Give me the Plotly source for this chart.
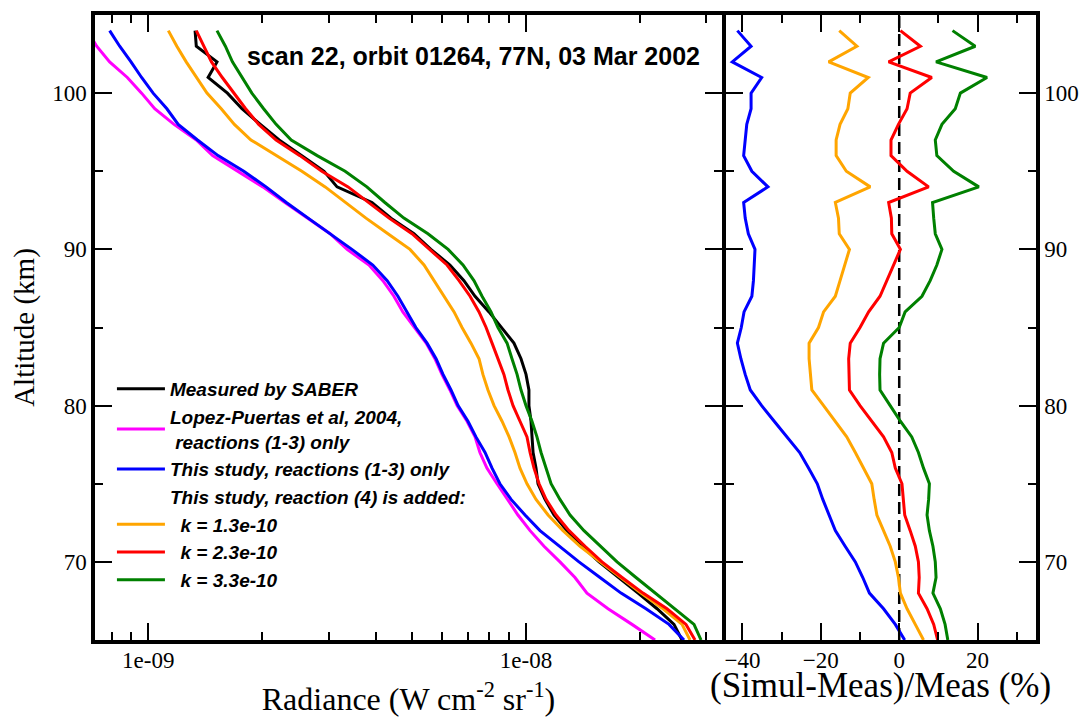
import plotly.graph_objects as go

# ---------------- data ----------------
altitude_km = [104, 103, 102, 101, 100, 99, 98, 97, 96, 95, 94, 93, 92, 91, 90,
               89, 88, 87, 86, 85, 84, 83, 82, 81, 80, 79, 78, 77, 76, 75,
               74, 73, 72, 71, 70, 69, 68, 67, 66, 65]

# radiance values in units of 1e-9 W cm^-2 sr^-1
RAD_UNIT = 1e-9
rad_measured = [1.33, 1.34, 1.52, 1.44, 1.62, 1.77, 1.98, 2.22, 2.55, 2.92, 3.16, 3.91, 4.39, 5.05, 5.60,
                6.29, 6.85, 7.33, 7.98, 8.59, 9.29, 9.70, 10.00, 10.18, 10.18, 10.31, 10.37, 10.44, 10.63, 10.76,
                11.23, 11.86, 12.84, 14.07, 15.61, 17.52, 19.80, 22.23, 24.65, 25.88]
rad_lopez = [0.69, 0.73, 0.79, 0.88, 0.96, 1.04, 1.17, 1.34, 1.48, 1.73, 2.01, 2.30, 2.63, 3.03, 3.36,
             3.84, 4.18, 4.47, 4.72, 5.08, 5.44, 5.74, 5.99, 6.29, 6.57, 6.98, 7.33, 7.55, 7.88, 8.38,
             8.91, 9.52, 10.25, 11.16, 12.30, 13.48, 14.50, 16.49, 19.08, 21.96]
rad_study13 = [0.79, 0.84, 0.90, 0.96, 1.03, 1.12, 1.20, 1.35, 1.53, 1.79, 2.05, 2.32, 2.65, 3.03, 3.46,
               3.93, 4.29, 4.58, 4.84, 5.11, 5.47, 5.78, 6.03, 6.33, 6.61, 7.02, 7.37, 7.79, 8.13, 8.53,
               9.13, 9.94, 10.89, 12.23, 13.81, 15.70, 17.85, 20.78, 23.91, 26.20]
rad_k13 = [1.13, 1.19, 1.26, 1.34, 1.43, 1.56, 1.69, 1.87, 2.18, 2.55, 2.94, 3.32, 3.77, 4.31, 4.93,
           5.37, 5.71, 6.07, 6.45, 6.77, 7.15, 7.51, 7.69, 7.93, 8.23, 8.64, 9.02, 9.35, 9.64, 10.06,
           10.63, 11.44, 12.53, 13.90, 15.70, 17.74, 20.16, 23.05, 25.89, 27.18]
rad_k23 = [1.34, 1.40, 1.47, 1.57, 1.69, 1.81, 1.96, 2.18, 2.52, 2.88, 3.38, 3.82, 4.34, 4.99, 5.57,
           6.18, 6.65, 7.11, 7.51, 7.84, 8.13, 8.43, 8.74, 8.96, 9.24, 9.64, 10.06, 10.25, 10.50, 10.83,
           11.30, 12.01, 13.00, 14.33, 15.89, 17.96, 20.41, 23.62, 26.52, 28.02]
rad_k33 = [1.52, 1.60, 1.67, 1.77, 1.88, 2.02, 2.18, 2.39, 2.80, 3.32, 3.79, 4.23, 4.75, 5.50, 6.22,
           6.81, 7.28, 7.65, 8.08, 8.43, 8.91, 9.18, 9.47, 9.70, 10.00, 10.37, 10.69, 10.96, 11.30, 11.65,
           12.30, 13.08, 14.24, 15.70, 17.42, 19.55, 21.96, 24.80, 27.85, 29.07]

# (Simul-Meas)/Meas in percent
pct_study13 = [-41.3, -37.8, -42.6, -35.1, -37.8, -37.8, -38.9, -39.3, -39.7, -37.6, -33.5, -39.7, -39.3, -38.5, -36.8,
               -37.0, -37.2, -37.6, -39.6, -40.3, -41.3, -40.4, -39.3, -38.0, -35.1, -31.9, -28.7, -25.4, -23.1, -20.9,
               -19.5, -17.8, -16.3, -13.8, -11.2, -9.3, -7.6, -4.0, -1.0, 1.4]
pct_k13 = [-15.3, -10.8, -18.0, -7.9, -12.5, -13.1, -15.1, -16.1, -16.1, -13.5, -7.4, -16.3, -15.5, -15.3, -12.7,
           -13.8, -15.1, -16.3, -19.3, -20.6, -23.0, -23.0, -22.7, -22.3, -19.3, -16.3, -13.4, -11.2, -9.1, -7.0,
           -6.4, -5.7, -4.0, -2.3, -1.0, -0.2, 0.3, 2.0, 4.1, 6.2]
pct_k23 = [0.3, 5.4, -2.7, 8.3, 2.8, 2.0, -0.2, -2.1, -2.1, 2.0, 7.5, -2.7, -2.0, -1.9, 0.3,
           -1.4, -3.1, -4.9, -7.8, -10.0, -12.5, -12.9, -12.8, -12.7, -10.0, -7.0, -4.0, -1.9, -1.0, 0.7,
           1.1, 1.4, 2.8, 4.1, 4.9, 5.1, 4.9, 7.1, 8.8, 9.8]
pct_k33 = [13.6, 19.4, 9.4, 22.4, 15.6, 14.3, 10.9, 9.2, 9.6, 13.9, 20.3, 8.5, 8.8, 9.2, 10.9,
           9.6, 7.9, 5.8, 1.5, 0.0, -4.0, -4.9, -5.0, -4.9, -2.3, 0.3, 3.2, 4.9, 6.2, 7.7,
           7.5, 7.1, 7.7, 8.6, 9.2, 9.4, 8.6, 10.5, 11.7, 12.4]

series_names = ["Measured by SABER",
                "Lopez-Puertas et al, 2004,<br>\u00a0reactions (1-3) only",
                "This study, reactions (1-3) only",
                "\u00a0\u00a0k = 1.3e-10",
                "\u00a0\u00a0k = 2.3e-10",
                "\u00a0\u00a0k = 3.3e-10"]
header_name = "This study, reaction (4) is added:"
series_colors = ["#000000", "#ff00ff", "#0000ff", "#ffa500", "#ff0000", "#008000"]

rad_tick_vals = [1e-9, 1e-8]
rad_tick_text = ["1e-09", "1e-08"]
rad_minor_ticks = [8e-10, 9e-10, 2e-9, 3e-9, 4e-9, 5e-9, 6e-9, 7e-9, 8e-9, 9e-9, 2e-8, 3e-8]

# ---------------- figure ----------------
LW = 3
SERIF = "Liberation Serif"
SANS = "Liberation Sans"
fig = go.Figure()

rad_series = [rad_measured, rad_lopez, rad_study13, rad_k13, rad_k23, rad_k33]
for i, vals in enumerate(rad_series):
    fig.add_trace(go.Scatter(
        x=[v * RAD_UNIT for v in vals], y=altitude_km, mode="lines",
        name=series_names[i], line=dict(color=series_colors[i], width=LW),
        xaxis="x", yaxis="y", legendrank=(i if i < 3 else i + 1) * 10))

# legend header line without a symbol
fig.add_trace(go.Scatter(x=[None], y=[None], mode="lines", name=header_name,
                         line=dict(color="rgba(0,0,0,0)", width=LW), legendrank=30,
                         xaxis="x", yaxis="y", hoverinfo="skip"))

pct_series = [pct_study13, pct_k13, pct_k23, pct_k33]
for vals, col in zip(pct_series, series_colors[2:]):
    fig.add_trace(go.Scatter(x=vals, y=altitude_km, mode="lines", showlegend=False,
                             line=dict(color=col, width=LW), xaxis="x2", yaxis="y2"))

# zero reference line in the difference panel
fig.add_shape(type="line", xref="x2", yref="paper", x0=0, x1=0, y0=0, y1=1,
              line=dict(color="black", width=2.5, dash="12px,6px"), layer="below")

FRAME = 3.5
tick_font = dict(family=SERIF, size=23, color="black")
common_axis = dict(showline=True, linewidth=FRAME, linecolor="black", mirror="allticks",
                   showgrid=False, zeroline=False, ticks="inside", ticklen=17, tickwidth=1.5,
                   tickcolor="black", tickfont=tick_font)
minor_common = dict(ticks="inside", ticklen=8, tickwidth=1.5, tickcolor="black", showgrid=False)

L_END = 627 / 941
R_START = 631 / 941

fig.update_layout(
    width=1084, height=717,
    margin=dict(l=95, r=48, t=15, b=77, autoexpand=False),
    paper_bgcolor="white", plot_bgcolor="white",
    font=dict(family=SERIF, size=23, color="black"),
    title=dict(text="scan 22, orbit 01264, 77N, 03 Mar 2002",
               font=dict(family=SANS, size=25, color="black", weight="bold"),
               xref="paper", yref="paper", x=0.4022, y=0.934, xanchor="center", yanchor="middle"),
    xaxis=dict(domain=[0, L_END], type="log", range=[-9.1411, -7.4811], anchor="y",
               tickmode="array", tickvals=rad_tick_vals, ticktext=rad_tick_text,
               minor=dict(tickmode="array", tickvals=rad_minor_ticks, **minor_common),
               ticklabelstandoff=-3,
               title=dict(text="Radiance (W cm<sup>-2</sup> sr<sup>-1</sup>)",
                          font=dict(family=SERIF, size=32), standoff=28),
               **common_axis),
    yaxis=dict(domain=[0, 1], range=[65, 105], anchor="x", dtick=10, tick0=0,
               minor=dict(dtick=5, tick0=0, **minor_common),
               title=dict(text="Altitude (km)", font=dict(family=SERIF, size=29), standoff=10),
               **common_axis),
    xaxis2=dict(domain=[R_START, 1], range=[-44.2, 34.9], anchor="y2",
                dtick=20, tick0=0, minor=dict(dtick=10, tick0=0, **minor_common),
                ticklabelstandoff=-3,
                **common_axis),
    yaxis2=dict(domain=[0, 1], range=[65, 105], anchor="x2", side="right", dtick=10, tick0=0,
                minor=dict(dtick=5, tick0=0, **minor_common), **common_axis),
    legend=dict(x=0.018, y=0.432, xanchor="left", yanchor="top", itemwidth=48,
                bgcolor="rgba(0,0,0,0)", borderwidth=0, tracegroupgap=0,
                font=dict(family=SANS, size=19, color="black",
                          weight="bold", style="italic")),
    annotations=[dict(text="(Simul-Meas)/Meas (%)", xref="paper", yref="paper",
                      x=(880 - 95) / 941, y=(640 - 685) / 625, xanchor="center", yanchor="middle",
                      showarrow=False, font=dict(family=SERIF, size=35, color="black"))],
    showlegend=True,
)

fig.write_html("out.html", config={"displayModeBar": False},
               post_script="document.body.style.margin='0px';document.body.style.padding='0px';")
